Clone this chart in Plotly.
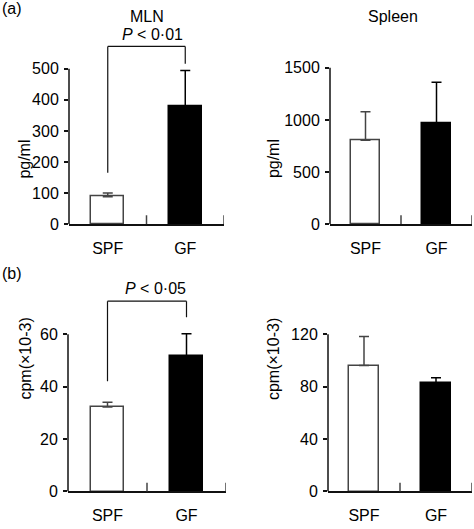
import plotly.graph_objects as go

W, H = 474, 529

categories = ["SPF", "GF"]
mln_vals = [88, 379]
mln_err = [12, 116]
spleen_vals = [805, 965]
spleen_err = [273, 396]
mln_cpm_vals = [32.2, 51.7]
mln_cpm_err = [1.8, 8.5]
spleen_cpm_vals = [96.2, 83.0]
spleen_cpm_err = [22.1, 3.8]

panel_titles = ["MLN", "Spleen"]
p_labels = ["<i>P</i> < 0·01", "<i>P</i> < 0·05"]
y_titles = ["pg/ml", "pg/ml", "cpm(×10-3)", "cpm(×10-3)"]
ytick_a_left = [0, 100, 200, 300, 400, 500]
ytick_a_right = [0, 500, 1000, 1500]
ytick_b_left = [0, 20, 40, 60]
ytick_b_right = [0, 40, 80, 120]

FONT = "Liberation Sans, Arial, Helvetica, sans-serif"
FS = 16
LINE = "#111"
OUTL = "#444"


def px(x):
    return x / W


def py(y):
    return 1 - y / H


panels = [
    (69, 224, 40, 228, 595, 500, mln_vals, mln_err, ytick_a_left),
    (330, 472, 40, 228, 1774, 1500, spleen_vals, spleen_err, ytick_a_right),
    (68, 226, 300, 500, 75, 60, mln_cpm_vals, mln_cpm_err, ytick_b_left),
    (328, 472, 300, 500, 150, 120, spleen_cpm_vals, spleen_cpm_err, ytick_b_right),
]
ytitle_pos = [(14, 140), (273, 140), (15, 409), (273, 409)]

fig = go.Figure()
shapes = []
annotations = []
layout = {}

fills = ["white", "black"]
outlines = [OUTL, "black"]

for i, (x0, x1, yt, yb, rtop, atop, vals, errs, ticks) in enumerate(panels):
    n = i + 1
    xa = "x" if n == 1 else f"x{n}"
    ya = "y" if n == 1 else f"y{n}"
    xkey = "xaxis" if n == 1 else f"xaxis{n}"
    ykey = "yaxis" if n == 1 else f"yaxis{n}"
    for k, cat in enumerate(categories):
        fig.add_trace(go.Bar(
            x=[cat], y=[vals[k]], xaxis=xa, yaxis=ya,
            width=0.42,
            marker=dict(color=fills[k], line=dict(color=outlines[k], width=1.5)),
            error_y=dict(type="data", symmetric=False, array=[errs[k]], arrayminus=[0],
                         color=outlines[k], thickness=1.5, width=5),
            showlegend=False,
        ))
    layout[xkey] = dict(
        domain=[px(x0), px(x1)], anchor=ya, type="category",
        categoryorder="array", categoryarray=categories,
        range=[-0.5, 1.5], showline=True, linecolor=LINE, linewidth=1.5,
        ticks="", showgrid=False, zeroline=False,
        tickfont=dict(family=FONT, size=FS, color="black"),
        ticklabelstandoff=9,
    )
    layout[ykey] = dict(
        domain=[py(yb), py(yt)], anchor=xa, range=[0, rtop],
        showline=False, showgrid=False, zeroline=False,
        tickvals=ticks, ticks="outside", ticklen=4, tickcolor=LINE, tickwidth=1.5,
        tickfont=dict(family=FONT, size=FS, color="black"),
        ticklabelstandoff=2,
    )
    # y axis line from 0 to top tick
    shapes.append(dict(type="line", xref=f"{xa} domain", yref=ya, x0=0, x1=0, y0=0, y1=atop,
                       line=dict(color=LINE, width=1.5)))
    # inward category boundary ticks on the x axis
    tick_frac = 9 / (yb - yt)
    for xb in (0.5, 1.5):
        shapes.append(dict(type="line", xref=xa, yref=f"{ya} domain", x0=xb, x1=xb,
                           y0=0, y1=tick_frac, line=dict(color=OUTL, width=1.5)))
    tx, ty = ytitle_pos[i]
    annotations.append(dict(
        text=y_titles[i], textangle=-90, xref="paper", yref="paper",
        x=px(tx), y=py(ty), showarrow=False,
        font=dict(family=FONT, size=FS, color="black"),
    ))

brackets = [
    ("x", "y", 165, 572, 516),
    ("x3", "y3", 42.1, 72.6, 66.5),
]
for xa, ya, yl, ytop, yr in brackets:
    for (a0, b0, a1, b1) in [(0, yl, 0, ytop), (0, ytop, 1, ytop), (1, ytop, 1, yr)]:
        shapes.append(dict(type="line", xref=xa, yref=ya, x0=a0, y0=b0, x1=a1, y1=b1,
                           line=dict(color=LINE, width=1.2)))

extra = [
    dict(text="(a)", x=px(0), y=py(9), xanchor="left"),
    dict(text="(b)", x=px(0), y=py(278), xanchor="left"),
    dict(text=panel_titles[0], x=px(147), y=py(17)),
    dict(text=panel_titles[1], x=px(393), y=py(17)),
    dict(text=p_labels[0], x=px(152), y=py(35)),
    dict(text=p_labels[1], x=px(155), y=py(293)),
]
for a in extra:
    a.update(xref="paper", yref="paper", showarrow=False, yanchor="middle",
             font=dict(family=FONT, size=FS, color="black"))
    a.setdefault("xanchor", "center")
annotations += extra

fig.update_layout(
    width=W, height=H, margin=dict(l=0, r=0, t=0, b=0),
    paper_bgcolor="white", plot_bgcolor="white",
    shapes=shapes, annotations=annotations, bargap=0, barmode="overlay",
    **layout,
)

fig.write_html("out.html", config={"displayModeBar": False},
               post_script="document.body.style.margin='0';document.body.style.overflow='hidden';")
